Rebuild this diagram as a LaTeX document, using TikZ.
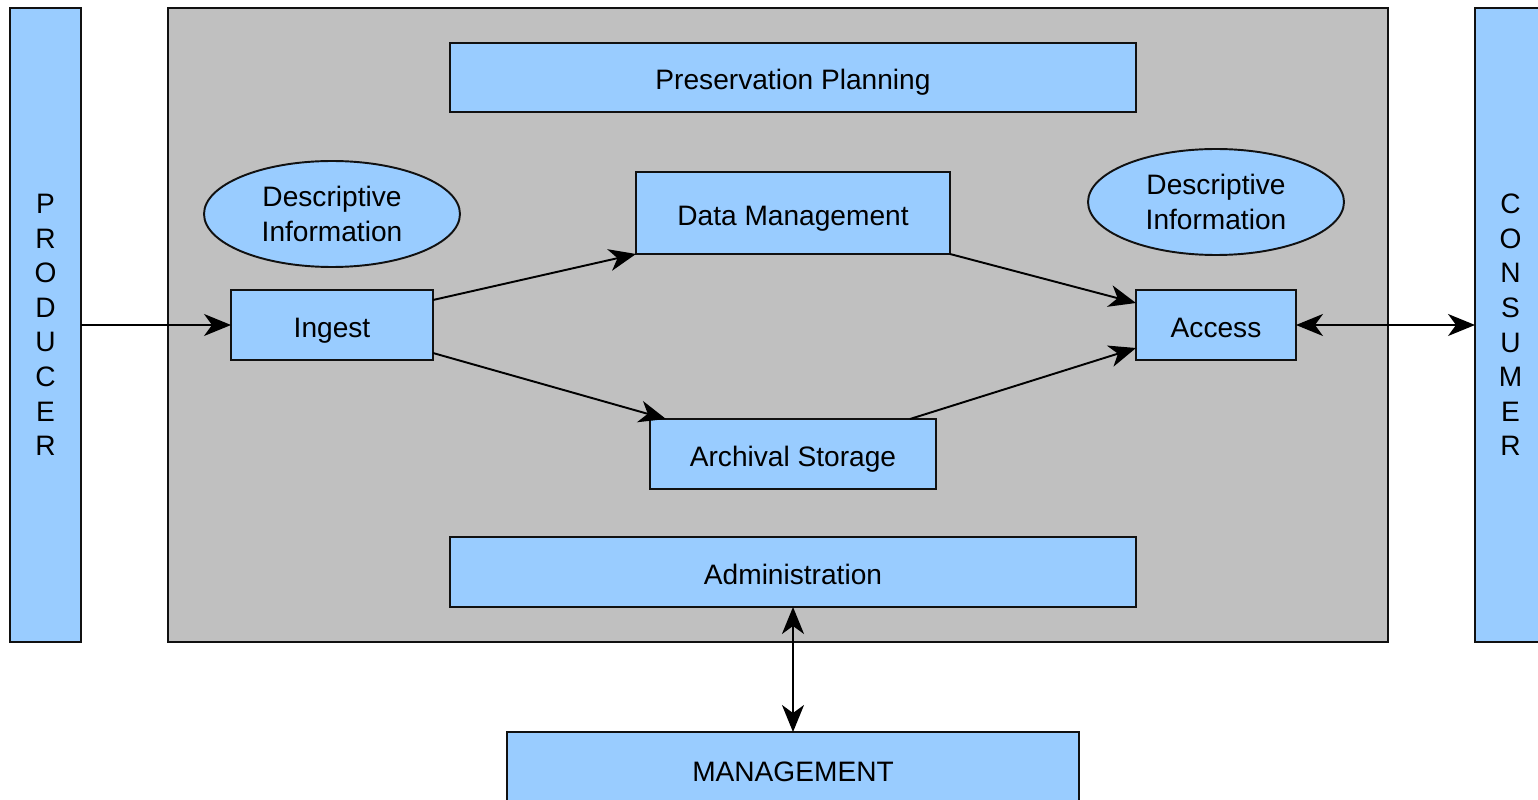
\documentclass[tikz,border=0pt]{standalone}
\usepackage{fontspec}
\setmainfont{Liberation Sans}
\usetikzlibrary{arrows.meta,shapes.geometric}
\definecolor{boxblue}{HTML}{99CCFF}
\definecolor{panelgray}{HTML}{C0C0C0}
\definecolor{edge}{HTML}{111111}
\tikzset{
  blk/.style={draw=edge, line width=1.1pt, fill=boxblue, inner sep=0pt, outer sep=0pt,
    font=\fontsize{16}{20}\selectfont, align=center},
  oneline/.style={blk, text height=15pt, text depth=1.3pt},
  oval/.style={blk, ellipse},
  conn/.style={line width=1.1pt, draw=black, -{Stealth[length=5.4mm,width=4.4mm,inset=1.6mm]}},
  biconn/.style={line width=1.1pt, draw=black, {Stealth[length=5.4mm,width=4.4mm,inset=1.6mm]}-{Stealth[length=5.4mm,width=4.4mm,inset=1.6mm]}},
}
\begin{document}
\begin{tikzpicture}[x=0.02cm,y=-0.02cm]
\useasboundingbox[fill=white] (0,0) rectangle (1538,800);
\node[draw=edge, line width=1.1pt, fill=panelgray, minimum width=24.4cm, minimum height=12.68cm, inner sep=0pt] (panel) at (778,325) {};
\node[blk, minimum width=1.42cm, minimum height=12.68cm, font=\fontsize{16}{19.7}\selectfont] (producer) at (45.5,325) {P\\R\\O\\D\\U\\C\\E\\R};
\node[blk, minimum width=1.42cm, minimum height=12.68cm, font=\fontsize{16}{19.7}\selectfont] (consumer) at (1510.5,325) {C\\O\\N\\S\\U\\M\\E\\R};
\node[oneline, minimum width=13.72cm, minimum height=1.38cm] (plan) at (793,77.5) {Preservation Planning};
\node[oneline, minimum width=6.28cm, minimum height=1.64cm] (dm) at (793,213) {Data Management};
\node[oval, minimum width=5.12cm, minimum height=2.12cm] (descl) at (332,214) {Descriptive\\Information};
\node[oval, minimum width=5.12cm, minimum height=2.12cm] (descr) at (1216,202) {Descriptive\\Information};
\node[oneline, minimum width=4.04cm, minimum height=1.4cm] (ingest) at (332,325) {Ingest};
\node[oneline, minimum width=3.2cm, minimum height=1.4cm] (access) at (1216,325) {Access};
\node[oneline, minimum width=5.72cm, minimum height=1.4cm] (arch) at (793,454) {Archival Storage};
\node[oneline, minimum width=13.72cm, minimum height=1.4cm] (admin) at (793,572) {Administration};
\node[oneline, minimum width=11.46cm, minimum height=1.48cm] (mgmt) at (793,769) {MANAGEMENT};
\draw[conn] (producer.east |- ingest.west) -- (ingest.west);
\draw[conn] ([yshift=0.5cm]ingest.east) -- (dm.south west);
\draw[conn] (dm.south east) -- ([yshift=0.44cm]access.west);
\draw[conn] ([yshift=-0.56cm]ingest.east) -- ([xshift=0.32cm]arch.north west);
\draw[conn] ([xshift=-0.52cm]arch.north east) -- ([yshift=-0.46cm]access.west);
\draw[biconn] (access.east) -- (consumer.west |- access.east);
\draw[biconn] (admin.south) -- (mgmt.north);
\end{tikzpicture}
\end{document}
